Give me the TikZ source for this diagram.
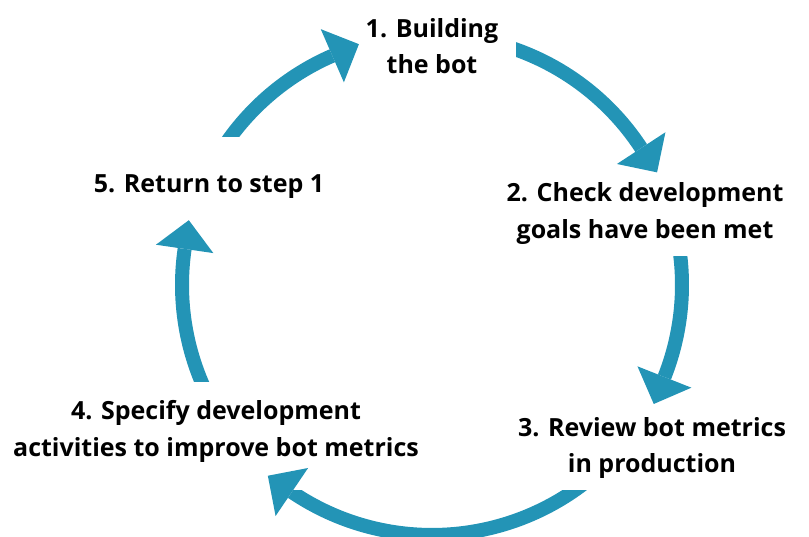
\documentclass[tikz,border=0pt]{standalone}
\usepackage{fontspec}
\setmainfont{Open Sans}
\usetikzlibrary{calc}
\definecolor{cyclecol}{RGB}{35,148,182}
\begin{document}
\begin{tikzpicture}[x=1pt,y=1pt,
  ring/.style={draw=cyclecol, line width=14pt},
  head/.style={fill=cyclecol},
  lbl/.style={font=\fontsize{25}{36.5}\selectfont\bfseries, align=center, inner sep=0pt, text=black}]
\useasboundingbox (0,0) rectangle (809,537);
\coordinate (c) at (432,252);
% arc 1
\begin{scope}
\clip (0,400) rectangle (809,537);
\draw[ring] ($(c)+(150:250)$) arc[start angle=150,end angle=113.5,radius=250];
\end{scope}
\fill[head] ($(c)+(113.5:279)$) -- ($(c)+(113.5:221)$) -- ($(c)+(113.5:250)+(23.5:29)$) -- cycle;
% arc 2
\begin{scope}
\clip (516,0) rectangle (809,537);
\draw[ring] ($(c)+(75:250)$) arc[start angle=75,end angle=33.2,radius=250];
\end{scope}
\fill[head] ($(c)+(33.2:279)$) -- ($(c)+(33.2:221)$) -- ($(c)+(33.2:250)+(-56.8:29)$) -- cycle;
% arc 3
\begin{scope}
\clip (0,0) rectangle (809,280);
\draw[ring] ($(c)+(12:250)$) arc[start angle=12,end angle=-21.6,radius=250];
\end{scope}
\fill[head] ($(c)+(-21.6:279)$) -- ($(c)+(-21.6:221)$) -- ($(c)+(-21.6:250)+(-111.6:29)$) -- cycle;
% arc 4
\begin{scope}
\clip (0,0) rectangle (809,46);
\draw[ring] ($(c)+(-50:250)$) arc[start angle=-50,end angle=-124.1,radius=250];
\end{scope}
\fill[head] ($(c)+(-124.1:279)$) -- ($(c)+(-124.1:221)$) -- ($(c)+(-124.1:250)+(-214.1:29)$) -- cycle;
% arc 5
\begin{scope}
\clip (0,155) rectangle (809,537);
\draw[ring] ($(c)+(210:250)$) arc[start angle=210,end angle=171.7,radius=250];
\end{scope}
\fill[head] ($(c)+(171.7:279)$) -- ($(c)+(171.7:221)$) -- ($(c)+(171.7:250)+(81.7:29)$) -- cycle;
% labels
\node[lbl] (s1) at (432,491) {1. Building\\the bot};
\node[lbl] (s2) at (645,323.5) {2. Check development\\goals have been met};
\node[lbl] (s3) at (652,89) {3. Review bot metrics\\in production};
\node[lbl] (s4) at (216,105.5) {4. Specify development\\activities to improve bot metrics};
\node[lbl] (s5) at (209,350) {5. Return to step 1};
\end{tikzpicture}
\end{document}
